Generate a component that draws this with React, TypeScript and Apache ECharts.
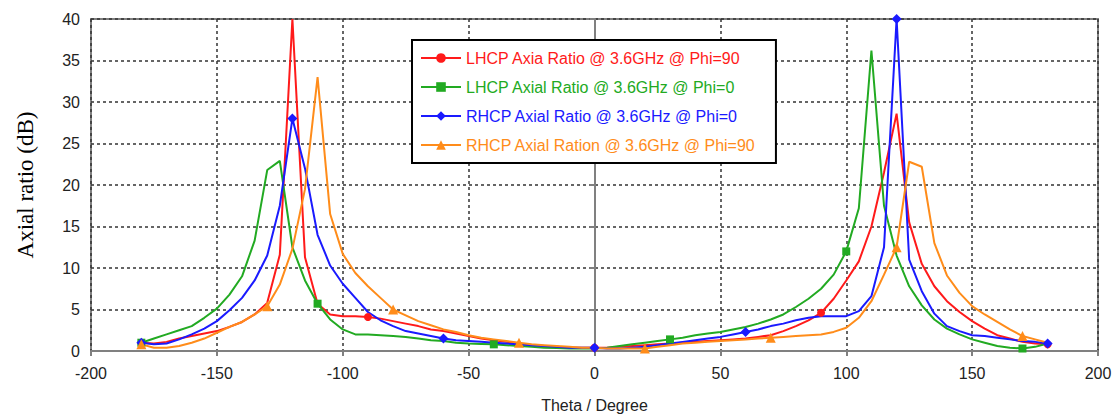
import React, { useEffect, useRef } from "react";
import * as echarts from "echarts";

const THETA = [
  -180, -175, -170, -165, -160, -155, -150, -145, -140, -135, -130, -125, -120, -115, -110, -105, -100, -95, -90,
  -85, -80, -75, -70, -65, -60, -55, -50, -45, -40, -35, -30, -25, -20, -15, -10, -5, 0,
  5, 10, 15, 20, 25, 30, 35, 40, 45, 50, 55, 60, 65, 70, 75, 80, 85, 90,
  95, 100, 105, 110, 115, 120, 125, 130, 135, 140, 145, 150, 155, 160, 165, 170, 175, 180,
];

const LHCP_PHI90 = [
  1.0, 0.9, 1.1, 1.5, 1.8, 2.1, 2.4, 2.9, 3.5, 4.4, 5.8, 11.6, 40, 11.3, 5.7, 4.4, 4.2, 4.2, 4.1,
  3.9, 3.6, 3.3, 3.0, 2.6, 2.4, 2.1, 1.8, 1.5, 1.3, 1.1, 0.9, 0.7, 0.6, 0.5, 0.4, 0.4, 0.4,
  0.4, 0.5, 0.6, 0.7, 0.8, 0.9, 1.0, 1.1, 1.2, 1.3, 1.4, 1.5, 1.7, 1.9, 2.4, 3.0, 3.7, 4.6,
  6.3, 8.5, 10.8, 15.0, 21.5, 28.6, 15.5, 10.5, 7.8, 6.0, 4.7, 3.6, 2.7, 1.9, 1.5, 1.1, 0.9, 0.8,
];

const LHCP_PHI0 = [
  1.0, 1.5, 2.0, 2.5, 3.0, 4.0, 5.1, 6.8, 9.0, 13.3, 21.8, 22.9, 12.5, 8.5, 5.7, 3.8, 2.6, 2.0, 2.0,
  1.9, 1.8, 1.7, 1.5, 1.3, 1.2, 1.0, 0.9, 0.85, 0.8, 0.7, 0.6, 0.5, 0.4, 0.35, 0.3, 0.3, 0.3,
  0.4, 0.6, 0.8, 1.0, 1.2, 1.4, 1.6, 1.9, 2.1, 2.3, 2.6, 2.9, 3.3, 3.8, 4.4, 5.3, 6.3, 7.5,
  9.2, 12.0, 17.2, 36.2, 17.5, 11.5, 7.8, 5.5, 3.8, 2.7, 2.0, 1.4, 1.0, 0.6, 0.4, 0.3, 0.5, 0.9,
];

const RHCP_PHI0 = [
  1.0, 0.8, 0.9, 1.4, 2.0, 2.7, 3.6, 4.9, 6.4, 8.5, 11.5, 17.5, 28.0, 22.0, 14.0, 10.3, 8.1, 6.4, 4.7,
  3.7, 3.0, 2.4, 2.1, 1.8, 1.5, 1.3, 1.2, 1.1, 1.0, 0.9, 0.8, 0.7, 0.6, 0.5, 0.4, 0.4, 0.4,
  0.3, 0.3, 0.4, 0.5, 0.7, 0.9, 1.1, 1.3, 1.5, 1.7, 2.0, 2.3, 2.6, 3.0, 3.3, 3.7, 4.0, 4.2,
  4.2, 4.2, 4.8, 6.6, 12.5, 40, 11.0, 7.2, 4.5, 3.0, 2.4, 1.9, 1.8, 1.6, 1.4, 1.2, 1.1, 0.9,
];

const RHCP_PHI90 = [
  0.8, 0.4, 0.4, 0.6, 1.0, 1.5, 2.2, 2.9, 3.5, 4.4, 5.4, 8.0, 12.3, 19.5, 33.0, 16.5, 11.7, 9.4, 7.8,
  6.4, 5.0, 4.3, 3.6, 3.1, 2.6, 2.3, 1.9, 1.6, 1.4, 1.2, 1.0, 0.8, 0.7, 0.6, 0.5, 0.4, 0.4,
  0.3, 0.3, 0.3, 0.3, 0.5, 0.7, 0.9, 1.0, 1.1, 1.2, 1.3, 1.4, 1.5, 1.6, 1.7, 1.8, 1.9, 2.0,
  2.3, 2.8, 4.0, 6.0, 9.2, 12.5, 22.8, 22.2, 13.0, 9.1, 7.0, 5.4, 4.4, 3.5, 2.6, 1.8, 1.4, 1.0,
];

const RED_MARKERS = [-180, -90, 0, 90, 180];
const GREEN_MARKERS = [-180, -110, -40, 30, 100, 170];
const BLUE_MARKERS = [-180, -120, -60, 0, 60, 120, 180];
const ORANGE_MARKERS = [-180, -130, -80, -30, 20, 70, 120, 170];

const SERIES_NAMES = [
  "LHCP Axia Ratio @ 3.6GHz @ Phi=90",
  "LHCP Axial Ratio @ 3.6GHz @ Phi=0",
  "RHCP Axial Ratio @ 3.6GHz @ Phi=0",
  "RHCP Axial Ration @ 3.6GHz @ Phi=90",
];

const X_TICKS_MIN = -200;
const X_TICKS_MAX = 200;
const Y_TICKS_MIN = 0;
const Y_TICKS_MAX = 40;

const COLORS = ["#ff1a1a", "#22aa22", "#1a1aff", "#ff8c1a"];
const SYMBOLS = ["circle", "rect", "diamond", "triangle"];
const SYMBOL_SIZES = [8, 8, 10, 10];

const FONT = "Liberation Sans";

function buildData(values: number[], markers: number[]) {
  return THETA.map((t, i) => {
    const item: any = { value: [t, values[i]] };
    if (!markers.includes(t)) item.symbol = "none";
    return item;
  });
}

export default function App() {
  const ref = useRef<HTMLDivElement>(null);
  useEffect(() => {
    if (!ref.current) return;
    const chart = echarts.init(ref.current, null, { renderer: "svg" });
    const allValues = [LHCP_PHI90, LHCP_PHI0, RHCP_PHI0, RHCP_PHI90];
    const allMarkers = [RED_MARKERS, GREEN_MARKERS, BLUE_MARKERS, ORANGE_MARKERS];
    const series = SERIES_NAMES.map((name, i) => ({
      name,
      type: "line",
      data: buildData(allValues[i], allMarkers[i]),
      symbol: SYMBOLS[i],
      symbolSize: SYMBOL_SIZES[i],
      showSymbol: true,
      showAllSymbol: true,
      clip: true,
      lineStyle: { color: COLORS[i], width: 2 },
      itemStyle: { color: COLORS[i] },
      emphasis: { disabled: true },
    }));
    const splitLine = { show: true, lineStyle: { color: "#333", type: [3, 3], width: 1.5 } };
    chart.setOption({
      animation: false,
      backgroundColor: "#ffffff",
      grid: {
        left: 91,
        right: 18,
        top: 19,
        bottom: 63,
        show: true,
        borderColor: "#808080",
        borderWidth: 2,
        backgroundColor: "transparent",
      },
      legend: {
        orient: "vertical",
        left: 412,
        top: 40,
        itemWidth: 40,
        itemHeight: 12,
        itemGap: 13,
        padding: [10, 20, 10, 8],
        borderColor: "#000",
        borderWidth: 2,
        backgroundColor: "#fff",
        selectedMode: false,
        textStyle: { fontSize: 16, fontFamily: FONT },
        data: SERIES_NAMES.map((name, i) => ({ name, textStyle: { color: COLORS[i] } })),
      },
      xAxis: {
        type: "value",
        min: X_TICKS_MIN,
        max: X_TICKS_MAX,
        interval: 50,
        name: "Theta / Degree",
        nameLocation: "middle",
        nameGap: 46,
        nameTextStyle: { fontSize: 16, fontFamily: FONT, color: "#222" },
        axisLine: { show: true, onZero: false, lineStyle: { color: "#808080", width: 2 } },
        axisTick: { show: true, length: 5, lineStyle: { color: "#808080", width: 2 } },
        axisLabel: { fontSize: 16, fontFamily: FONT, color: "#222", margin: 14 },
        splitLine,
      },
      yAxis: {
        type: "value",
        min: Y_TICKS_MIN,
        max: Y_TICKS_MAX,
        interval: 5,
        name: "Axial ratio (dB)",
        nameLocation: "middle",
        nameRotate: 90,
        nameGap: 54,
        nameTextStyle: { fontSize: 23, fontFamily: "Liberation Serif", color: "#000" },
        axisLine: { show: true, lineStyle: { color: "#808080", width: 2 } },
        axisTick: { show: true, length: 5, lineStyle: { color: "#808080", width: 2 } },
        axisLabel: { fontSize: 16, fontFamily: FONT, color: "#222", margin: 11 },
        splitLine,
      },
      series,
    });
    return () => chart.dispose();
  }, []);
  return (
    <div
      ref={ref}
      style={{ position: "fixed", left: 0, top: 0, width: 1116, height: 418, background: "#fff" }}
    />
  );
}
